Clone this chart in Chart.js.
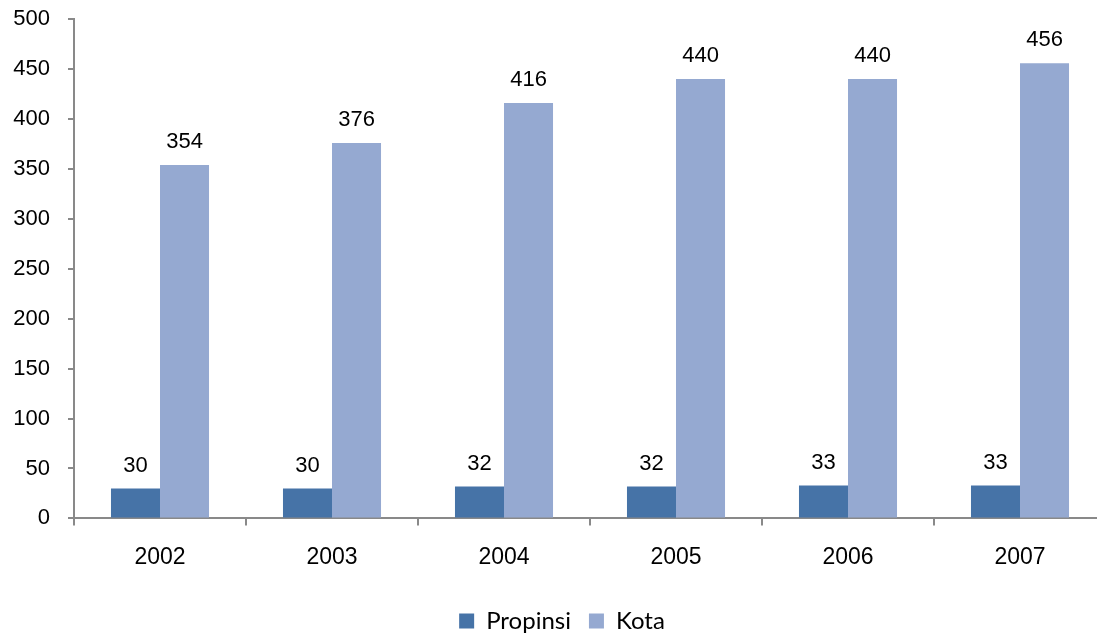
<!DOCTYPE html>
<html>
<head>
<meta charset="utf-8">
<script src="https://cdn.jsdelivr.net/npm/chart.js@4/dist/chart.umd.min.js"></script>
<style>
  html, body { margin: 0; padding: 0; background: #fff; overflow: hidden; }
  #wrap { width: 1097px; height: 634px; overflow: hidden; position: relative; }
  #c { display: block; margin-top: -12px; }
</style>
</head>
<body>
<div id="wrap">
  <canvas id="c" width="1124" height="662" style="width:1124px;height:662px"></canvas>
</div>
<script>
// Data: number of provinces and cities per year
const years = ['2002', '2003', '2004', '2005', '2006', '2007'];
const propinsi = [30, 30, 32, 32, 33, 33];
const kota = [354, 376, 416, 440, 440, 456];
const seriesNames = ['Propinsi', 'Kota'];

const AXIS_GREY = '#898989';
const NUM_FONT = '"Liberation Sans", Arial, sans-serif';

// Draws each bar's value centred above it
const valueLabels = {
  id: 'valueLabels',
  afterDatasetsDraw(chart) {
    const ctx = chart.ctx;
    ctx.save();
    ctx.font = '22px ' + NUM_FONT;
    ctx.fillStyle = '#000';
    ctx.textAlign = 'center';
    ctx.textBaseline = 'middle';
    chart.data.datasets.forEach((ds, i) => {
      chart.getDatasetMeta(i).data.forEach((bar, j) => {
        ctx.fillText(String(ds.data[j]), bar.x, bar.y - 23);
      });
    });
    ctx.restore();
  }
};

new Chart(document.getElementById('c'), {
  type: 'bar',
  data: {
    labels: years,
    datasets: [
      { label: seriesNames[0], data: propinsi, backgroundColor: '#4673A7', borderWidth: 0 },
      { label: seriesNames[1], data: kota, backgroundColor: '#95A9D1', borderWidth: 0 }
    ]
  },
  options: {
    responsive: false,
    animation: false,
    devicePixelRatio: 1,
    categoryPercentage: 0.57,
    barPercentage: 1.0,
    layout: { padding: { top: 6, left: 0, right: 0, bottom: 7 } },
    plugins: {
      tooltip: { enabled: false },
      legend: {
        position: 'bottom',
        labels: {
          boxWidth: 15,
          boxHeight: 15,
          padding: 18,
          color: '#000',
          font: { family: 'Lato', size: 24 }
        }
      }
    },
    scales: {
      x: {
        offset: true,
        grid: { offset: true, drawOnChartArea: false, drawTicks: true, tickLength: 7, color: AXIS_GREY, lineWidth: 2 },
        border: { color: AXIS_GREY, width: 2 },
        ticks: { color: '#000', padding: 18, maxRotation: 0, font: { family: NUM_FONT, size: 23 } },
        afterFit(scale) { scale.height = 72.6; }
      },
      y: {
        min: 0,
        max: 500,
        grid: { drawOnChartArea: false, drawTicks: true, tickLength: 6, color: AXIS_GREY, lineWidth: 2 },
        border: { color: AXIS_GREY, width: 2 },
        ticks: { stepSize: 50, color: '#000', padding: 18, font: { family: NUM_FONT, size: 22 } },
        afterFit(scale) { scale.width = 74; }
      },
      // empty right-hand margin strip beside the plot
      yRight: {
        position: 'right',
        grid: { display: false },
        border: { display: false },
        ticks: { display: false },
        afterFit(scale) { scale.width = 18; }
      }
    }
  },
  plugins: [valueLabels]
});
</script>
</body>
</html>
